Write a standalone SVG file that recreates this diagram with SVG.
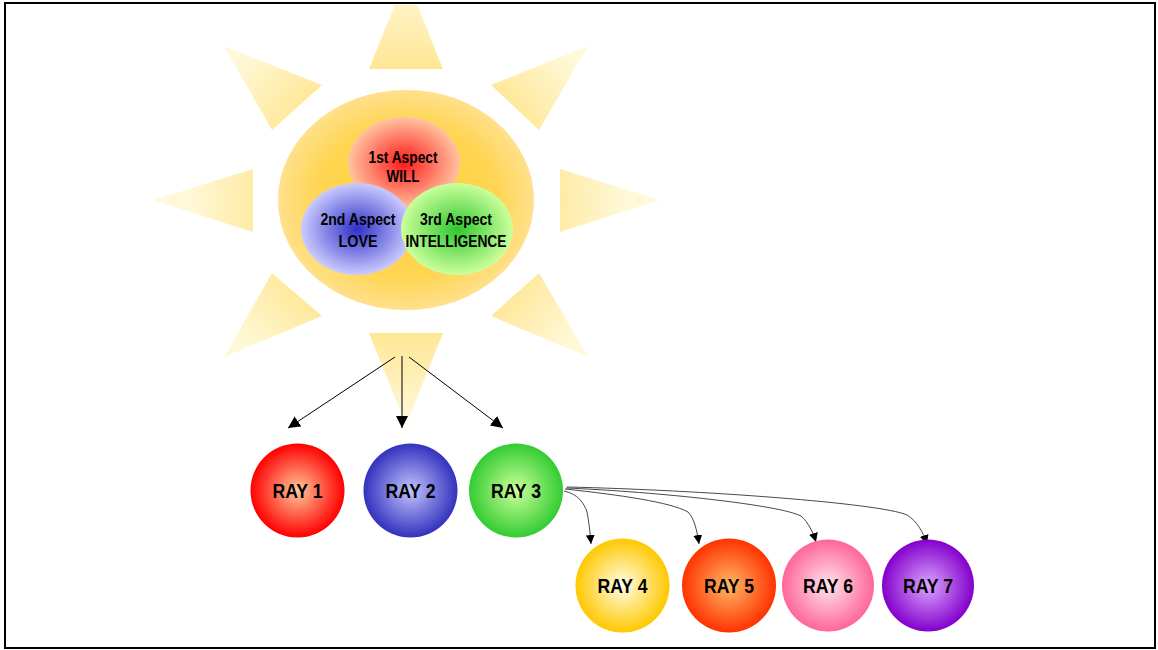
<svg xmlns="http://www.w3.org/2000/svg" width="1158" height="650" viewBox="0 0 1158 650">
<style>
.t{font-family:"Liberation Sans",Arial,sans-serif;font-weight:bold;fill:#000;text-anchor:middle}
.a{font-size:16px}
.r{font-size:21px}
.c{fill:none;stroke:#333;stroke-width:0.9}
.s{fill:none;stroke:#000;stroke-width:1}
</style>
<defs>
<radialGradient id="gRay" gradientUnits="userSpaceOnUse" cx="406" cy="200" r="220">
<stop offset="0.45" stop-color="#FFDF78"/><stop offset="1" stop-color="#FFF9DA"/></radialGradient>
<radialGradient id="gSun" cx="0.5" cy="0.5" r="0.5">
<stop offset="0" stop-color="#FFCF3A"/><stop offset="0.7" stop-color="#FFD552"/><stop offset="1" stop-color="#FFE08C"/></radialGradient>
<radialGradient id="gA1"><stop offset="0" stop-color="#FF1A1A"/><stop offset="1" stop-color="#FFC4A0"/></radialGradient>
<radialGradient id="gA2"><stop offset="0" stop-color="#2F2FC8"/><stop offset="1" stop-color="#CBCBFF"/></radialGradient>
<radialGradient id="gA3"><stop offset="0" stop-color="#2EC82E"/><stop offset="1" stop-color="#CCFF9C"/></radialGradient>
<radialGradient id="g1"><stop offset="0" stop-color="#FFC89A"/><stop offset="1" stop-color="#FF0000"/></radialGradient>
<radialGradient id="g2"><stop offset="0" stop-color="#C4C4FF"/><stop offset="1" stop-color="#3232BE"/></radialGradient>
<radialGradient id="g3"><stop offset="0" stop-color="#CCFF99"/><stop offset="1" stop-color="#33CC33"/></radialGradient>
<radialGradient id="g4"><stop offset="0" stop-color="#FFFDE8"/><stop offset="1" stop-color="#FFC800"/></radialGradient>
<radialGradient id="g5"><stop offset="0" stop-color="#FFB866"/><stop offset="1" stop-color="#FF3300"/></radialGradient>
<radialGradient id="g6"><stop offset="0" stop-color="#FFE4EC"/><stop offset="1" stop-color="#FF6699"/></radialGradient>
<radialGradient id="g7"><stop offset="0" stop-color="#D9A6FF"/><stop offset="1" stop-color="#8400CC"/></radialGradient>
<marker id="ah" viewBox="0 0 10 10" refX="10" refY="5" markerWidth="12" markerHeight="12" markerUnits="userSpaceOnUse" orient="auto">
<path d="M0,0 L10,5 L0,10 z" fill="#000"/></marker>
<marker id="ahs" viewBox="0 0 10 10" refX="10" refY="5" markerWidth="9" markerHeight="9" markerUnits="userSpaceOnUse" orient="auto">
<path d="M0,0 L10,5 L0,10 z" fill="#000"/></marker>
</defs>
<rect x="0" y="0" width="1158" height="650" fill="#fff"/>
<rect x="5" y="3" width="1150" height="645" fill="none" stroke="#000" stroke-width="2"/>
<g id="sun">
<g fill="url(#gRay)">
<polygon points="394.7,5 417.3,5 443,69 369,69"/>
<polygon points="406,425 369,333 443,333"/>
<polygon points="153,200 253,169 253,232"/>
<polygon points="660,200 560,169 560,232"/>
<polygon points="224,46 322,85 272,130"/>
<polygon points="588,46 491,85 539,130"/>
<polygon points="224,357 272,273 322,316"/>
<polygon points="588,357 539,273 491,316"/>
</g>
<ellipse cx="406" cy="200" rx="128" ry="110" fill="url(#gSun)"/>
</g>
<g id="aspect1">
<ellipse cx="404" cy="163" rx="56" ry="46" fill="url(#gA1)"/>
<text class="t a" x="403" y="163" textLength="69" lengthAdjust="spacingAndGlyphs">1st Aspect</text>
<text class="t a" x="403" y="182" textLength="33" lengthAdjust="spacingAndGlyphs">WILL</text>
</g>
<g id="aspect2">
<ellipse cx="357" cy="229" rx="56" ry="46" fill="url(#gA2)"/>
<text class="t a" x="358" y="225" textLength="75" lengthAdjust="spacingAndGlyphs">2nd Aspect</text>
<text class="t a" x="358" y="247" textLength="39" lengthAdjust="spacingAndGlyphs">LOVE</text>
</g>
<g id="aspect3">
<ellipse cx="457" cy="229" rx="56" ry="46" fill="url(#gA3)"/>
<text class="t a" x="456" y="225" textLength="72" lengthAdjust="spacingAndGlyphs">3rd Aspect</text>
<text class="t a" x="456" y="247" textLength="101" lengthAdjust="spacingAndGlyphs">INTELLIGENCE</text>
</g>
<g id="connectors">
<line class="s" x1="395" y1="357" x2="288" y2="428" marker-end="url(#ah)"/>
<line class="s" x1="402" y1="356" x2="402" y2="428" stroke-width="1.5" marker-end="url(#ah)"/>
<line class="s" x1="409" y1="357" x2="503" y2="428" marker-end="url(#ah)"/>
<path class="c" d="M564,491 C578,494 584,503 587,512 C589,522 590,532 591,544" marker-end="url(#ahs)"/>
<path class="c" d="M565,489 C620,495 670,502 688,512 C694,518 697,530 699,544" marker-end="url(#ahs)"/>
<path class="c" d="M566,488 C660,492 780,505 801,516 C808,522 813,532 816,542" marker-end="url(#ahs)"/>
<path class="c" d="M567,487 C700,490 880,503 907,515 C917,521 923,532 927,544" marker-end="url(#ahs)"/>
</g>
<g id="ray1"><circle cx="297.5" cy="490.5" r="47" fill="url(#g1)"/><text class="t r" x="297.5" y="498" textLength="50" lengthAdjust="spacingAndGlyphs">RAY 1</text></g>
<g id="ray2"><circle cx="410.5" cy="490.5" r="47" fill="url(#g2)"/><text class="t r" x="410.5" y="498" textLength="50" lengthAdjust="spacingAndGlyphs">RAY 2</text></g>
<g id="ray3"><circle cx="516" cy="490.5" r="47" fill="url(#g3)"/><text class="t r" x="516" y="498" textLength="50" lengthAdjust="spacingAndGlyphs">RAY 3</text></g>
<g id="ray4"><circle cx="622.5" cy="585.5" r="47" fill="url(#g4)"/><text class="t r" x="622.5" y="593" textLength="50" lengthAdjust="spacingAndGlyphs">RAY 4</text></g>
<g id="ray5"><circle cx="729" cy="585.5" r="47" fill="url(#g5)"/><text class="t r" x="729" y="593" textLength="50" lengthAdjust="spacingAndGlyphs">RAY 5</text></g>
<g id="ray6"><circle cx="828" cy="585.5" r="46" fill="url(#g6)"/><text class="t r" x="828" y="593" textLength="50" lengthAdjust="spacingAndGlyphs">RAY 6</text></g>
<g id="ray7"><circle cx="928" cy="585.5" r="46" fill="url(#g7)"/><text class="t r" x="928" y="593" textLength="50" lengthAdjust="spacingAndGlyphs">RAY 7</text></g>
</svg>
